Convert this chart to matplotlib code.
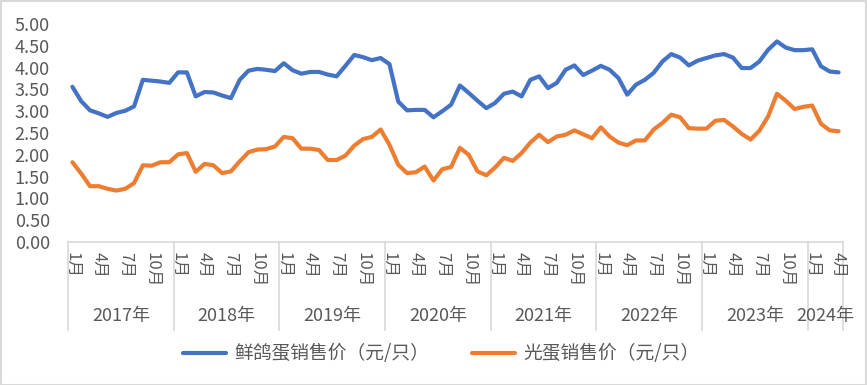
import matplotlib
matplotlib.use("Agg")
import matplotlib.pyplot as plt
from matplotlib.patches import Rectangle
from matplotlib.lines import Line2D
import numpy as np

plt.rcParams['font.family'] = ['Noto Sans CJK SC', 'DejaVu Sans']

years = ["2017年", "2018年", "2019年", "2020年", "2021年", "2022年", "2023年", "2024年"]
months_per_year = [12, 12, 12, 12, 12, 12, 12, 4]
month_labels = {1: "1月", 4: "4月", 7: "7月", 10: "10月"}

series_names = ["鲜鸽蛋销售价（元/只）", "光蛋销售价（元/只）"]

fresh_price = [
    3.56, 3.23, 3.02, 2.95, 2.87, 2.96, 3.01, 3.11, 3.72, 3.70, 3.68, 3.65,
    3.89, 3.89, 3.34, 3.44, 3.43, 3.36, 3.30, 3.72, 3.93, 3.97, 3.95, 3.92,
    4.10, 3.94, 3.86, 3.90, 3.90, 3.84, 3.80, 4.04, 4.29, 4.24, 4.17, 4.22,
    4.08, 3.22, 3.02, 3.03, 3.03, 2.86, 3.00, 3.15, 3.59, 3.42, 3.24, 3.07,
    3.19, 3.40, 3.45, 3.34, 3.72, 3.80, 3.53, 3.65, 3.95, 4.05, 3.83, 3.93,
    4.04, 3.95, 3.76, 3.38, 3.61, 3.72, 3.88, 4.14, 4.31, 4.23, 4.05, 4.16,
    4.22, 4.28, 4.31, 4.23, 3.99, 3.99, 4.14, 4.41, 4.60, 4.46, 4.40, 4.40,
    4.42, 4.03, 3.91, 3.89,
]

bare_price = [
    1.83, 1.57, 1.28, 1.28, 1.22, 1.18, 1.22, 1.35, 1.76, 1.75, 1.83, 1.83,
    2.01, 2.04, 1.61, 1.79, 1.76, 1.58, 1.62, 1.85, 2.06, 2.12, 2.13, 2.19,
    2.41, 2.38, 2.14, 2.14, 2.11, 1.88, 1.88, 1.98, 2.21, 2.36, 2.41, 2.58,
    2.23, 1.77, 1.58, 1.60, 1.73, 1.41, 1.67, 1.72, 2.16, 2.00, 1.62, 1.53,
    1.71, 1.93, 1.86, 2.04, 2.28, 2.46, 2.29, 2.42, 2.46, 2.56, 2.47, 2.38,
    2.63, 2.42, 2.28, 2.22, 2.33, 2.33, 2.58, 2.73, 2.92, 2.86, 2.61, 2.60,
    2.60, 2.78, 2.80, 2.65, 2.48, 2.35, 2.55, 2.88, 3.40, 3.24, 3.05, 3.10,
    3.13, 2.71, 2.56, 2.54,
]

yticks = [0.0, 0.5, 1.0, 1.5, 2.0, 2.5, 3.0, 3.5, 4.0, 4.5, 5.0]

text_color = "#595959"
axis_color = "#D9D9D9"
colors = ["#4472C4", "#ED7D31"]

W, H = 867, 385
fig = plt.figure(figsize=(W / 100, H / 100), dpi=100)
ax_left, ax_right, ax_top, ax_bot = 68, 843, 24, 242
ax = fig.add_axes([ax_left / W, 1 - ax_bot / H, (ax_right - ax_left) / W, (ax_bot - ax_top) / H])

n = len(fresh_price)
x = np.arange(n) + 0.5
ax.plot(x, fresh_price, color=colors[0], lw=3.0, solid_joinstyle='round', solid_capstyle='round')
ax.plot(x, bare_price, color=colors[1], lw=3.0, solid_joinstyle='round', solid_capstyle='round')

ax.set_xlim(0, n)
ax.set_ylim(0, 5)
ax.set_yticks(yticks)
ax.set_yticklabels([f"{v:.2f}" for v in yticks], fontsize=13, color=text_color, fontweight='light')
ax.tick_params(axis='y', length=0, pad=13)
ax.set_xticks([])
for s in ['top', 'right', 'left']:
    ax.spines[s].set_visible(False)
ax.spines['bottom'].set_color(axis_color)
ax.spines['bottom'].set_linewidth(1.2)

ppu_y = (ax_bot - ax_top)
trans = ax.get_xaxis_transform()
sep_bottom = -(330 - ax_bot) / ppu_y
month_y = -(252 - ax_bot) / ppu_y
year_y = -(316 - ax_bot) / ppu_y

pos = 0
boundaries = [0]
for yr, nm in zip(years, months_per_year):
    for m in range(1, nm + 1):
        if m in month_labels:
            ax.text(pos + m - 0.5, month_y, month_labels[m], rotation=-90, ha='center', va='top',
                    fontsize=12, color=text_color, transform=trans, fontweight='light')
    ax.text(pos + nm / 2, year_y, yr, ha='center', va='center', fontsize=13,
            color=text_color, transform=trans, fontweight='light')
    pos += nm
    boundaries.append(pos)

for b in boundaries:
    ax.plot([b, b], [0, sep_bottom], color=axis_color, lw=1.2, transform=trans, clip_on=False)

handles = [Line2D([0], [0], color=c, lw=3.0, solid_capstyle='round') for c in colors]
leg = fig.legend(handles, series_names, ncol=2, loc='center', bbox_to_anchor=(0.509, 1 - 354 / H),
                 frameon=False, prop={'size': 13.5, 'weight': 'light'},
                 handlelength=2.3, handletextpad=0.45, columnspacing=2.3)
for t in leg.get_texts():
    t.set_color(text_color)

fig.patches.append(Rectangle((0.5 / W, 0.5 / H), 1 - 1.5 / W, 1 - 1.5 / H, transform=fig.transFigure,
                             fill=False, edgecolor=axis_color, lw=1.5))

fig.savefig("out.png", dpi=100, facecolor="white")
